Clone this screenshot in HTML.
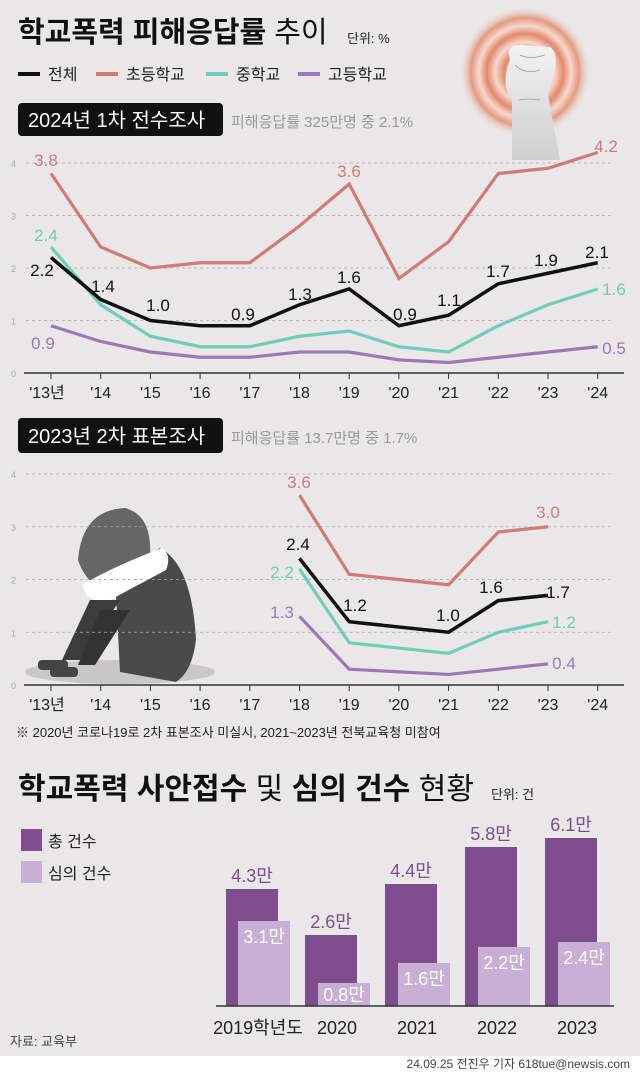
<!DOCTYPE html>
<html><head><meta charset="utf-8"><style>
html,body{margin:0;padding:0;background:#e9e7e8;}
svg{display:block;font-family:"Liberation Sans","Noto Sans CJK KR",sans-serif;}
</style></head><body>
<svg width="640" height="1072" viewBox="0 0 640 1072" xmlns="http://www.w3.org/2000/svg">
<defs>
<radialGradient id="rg" cx="0.5" cy="0.5" r="0.5">
<stop offset="0" stop-color="#e38e72" stop-opacity="0.9"/>
<stop offset="0.2" stop-color="#f6d8cc"/>
<stop offset="0.32" stop-color="#e2896c"/>
<stop offset="0.45" stop-color="#f6d8cc"/>
<stop offset="0.58" stop-color="#e2896c"/>
<stop offset="0.7" stop-color="#f6d8cc"/>
<stop offset="0.82" stop-color="#e59a80"/>
<stop offset="1" stop-color="#e9e7e8" stop-opacity="0"/>
</radialGradient>
<linearGradient id="arm" x1="0" y1="0" x2="0" y2="1"><stop offset="0" stop-color="#f2f2f2"/><stop offset="1" stop-color="#cfcfcf"/></linearGradient>
</defs>
<rect width="640" height="1072" fill="#e9e7e8"/>
<rect y="1056" width="640" height="16" fill="#fff"/>

<!-- fist -->
<circle cx="525" cy="72" r="66" fill="url(#rg)"/>
<path d="M510 60 Q505 45 520 45 L550 47 Q558 52 555 70 L548 95 L560 160 L512 160 L512 100 Q500 85 510 60Z" fill="url(#arm)"/>
<path d="M515 65 Q525 75 540 70 M520 55 Q530 60 545 55 M518 100 Q530 98 540 100" stroke="#999" stroke-width="0.8" fill="none"/>

<!-- title -->
<text x="18" y="42" font-size="29" font-weight="bold" fill="#111">학교폭력 피해응답률 <tspan font-weight="normal">추이</tspan></text>
<text x="347" y="43" font-size="13" fill="#222">단위: %</text>
<g font-size="16" fill="#222">
<rect x="18" y="72" width="22" height="4" fill="#111"/><text x="48" y="80">전체</text>
<rect x="96" y="72" width="22" height="4" fill="#d27a76"/><text x="126" y="80">초등학교</text>
<rect x="206" y="72" width="22" height="4" fill="#6fcdb9"/><text x="236" y="80">중학교</text>
<rect x="298" y="72" width="22" height="4" fill="#9d78b6"/><text x="328" y="80">고등학교</text>
</g>
<rect x="18" y="103" width="205" height="33" rx="4" fill="#111"/>
<text x="28" y="127" font-size="20" fill="#fff">2024년 1차 전수조사</text>
<text x="231" y="127" font-size="15" fill="#999">피해응답률 325만명 중 2.1%</text>

<!-- person -->
<ellipse cx="120" cy="672" rx="95" ry="12" fill="#c9c7c8"/>
<path d="M115 575 L160 548 Q192 565 196 640 Q192 672 176 682 L120 672Z" fill="#4a4a4a"/>
<path d="M78 560 Q82 510 125 508 Q152 515 150 555 Q140 580 115 590 Q88 590 78 560Z" fill="#666"/>
<path d="M82 585 Q110 568 162 548 Q172 555 166 570 L110 600 Q88 605 82 585Z" fill="#fff"/>
<path d="M90 600 L120 600 L80 660 L62 660Z" fill="#3c3c3c"/>
<path d="M100 610 L130 610 L95 665 L78 665Z" fill="#333"/>
<rect x="38" y="660" width="30" height="10" rx="4" fill="#444"/>
<rect x="50" y="667" width="28" height="10" rx="4" fill="#444"/>

<g id="c1"></g>
<rect x="18" y="418" width="205" height="35" rx="4" fill="#111"/>
<text x="28" y="443" font-size="20" fill="#fff">2023년 2차 표본조사</text>
<text x="231" y="443" font-size="15" fill="#999">피해응답률 13.7만명 중 1.7%</text>
<g id="c2"></g>
<text x="16" y="737" font-size="13" fill="#222">※ 2020년 코로나19로 2차 표본조사 미실시, 2021~2023년 전북교육청 미참여</text>

<!-- bar section -->
<text x="18" y="799" font-size="30" font-weight="bold" fill="#111" textLength="456" lengthAdjust="spacingAndGlyphs">학교폭력 사안접수 <tspan font-weight="normal">및</tspan> 심의 건수 <tspan font-weight="normal">현황</tspan></text>
<text x="491" y="799" font-size="13" fill="#222">단위: 건</text>
<rect x="21" y="829" width="21" height="22" fill="#7e4d8e"/><text x="48" y="847" font-size="16" fill="#222">총 건수</text>
<rect x="21" y="861" width="21" height="22" fill="#c9afd6"/><text x="48" y="879" font-size="16" fill="#222">심의 건수</text>
<g id="bars"></g>
<line x1="216" y1="1006" x2="614" y2="1006" stroke="#333" stroke-width="1.5"/>
<g font-size="18" fill="#222" text-anchor="middle">
<text x="258" y="1034">2019학년도</text><text x="337" y="1034">2020</text><text x="417" y="1034">2021</text><text x="497" y="1034">2022</text><text x="577" y="1034">2023</text>
</g>
<text x="10" y="1046" font-size="13" fill="#444">자료: 교육부</text>
<text x="630" y="1068" font-size="12" fill="#444" text-anchor="end">24.09.25 전진우 기자 618tue@newsis.com</text>
</svg>
<script>
var NS="http://www.w3.org/2000/svg";
function el(p,t,a,txt){var e=document.createElementNS(NS,t);for(var k in a)e.setAttribute(k,a[k]);if(txt!=null)e.textContent=txt;p.appendChild(e);return e;}
var X=function(i){return 51+49.7*i;};
var yrs=["'13년","'14","'15","'16","'17","'18","'19","'20","'21","'22","'23","'24"];
var cols={t:"#111",e:"#d27a76",m:"#6fcdb9",h:"#9d78b6"};
function chart(g,y0,u,data,labels){
 for(var v=0;v<=4;v++){var y=y0-u*v;
  if(v>0)el(g,"line",{x1:26,x2:612,y1:y,y2:y,stroke:"#aaa","stroke-dasharray":"3,3","stroke-width":0.8});
  el(g,"text",{x:11,y:y+4,"font-size":9,fill:"#aaa"},v);}
 el(g,"line",{x1:24,x2:624,y1:y0,y2:y0,stroke:"#333","stroke-width":1.5});
 for(var i=0;i<12;i++){el(g,"line",{x1:X(i),x2:X(i),y1:y0,y2:y0+6,stroke:"#333"});
  el(g,"text",{x:X(i)-(i==0?4:0),y:y0+25,"font-size":16,fill:"#222","text-anchor":"middle"},yrs[i]);}
 ["h","m","e","t"].forEach(function(k){var d=data[k],pts=[];
  for(var i=0;i<12;i++)if(d[i]!=null)pts.push(X(i)+","+(y0-u*d[i]));
  el(g,"polyline",{points:pts.join(" "),fill:"none",stroke:cols[k],"stroke-width":k=="t"?3.5:3.2,"stroke-linejoin":"miter"});});
 labels.forEach(function(l){el(g,"text",{x:l[1],y:l[2],"font-size":17,fill:cols[l[0]],"text-anchor":"middle"},l[3]);});
}
chart(document.getElementById("c1"),373,52.5,{
 t:[2.2,1.4,1.0,0.9,0.9,1.3,1.6,0.9,1.1,1.7,1.9,2.1],
 e:[3.8,2.4,2.0,2.1,2.1,2.8,3.6,1.8,2.5,3.8,3.9,4.2],
 m:[2.4,1.3,0.7,0.5,0.5,0.7,0.8,0.5,0.4,0.9,1.3,1.6],
 h:[0.9,0.6,0.4,0.3,0.3,0.4,0.4,0.25,0.2,0.3,0.4,0.5]},[
 ["e",46,166,"3.8"],["e",349,177,"3.6"],["e",606,152,"4.2"],
 ["m",46,241,"2.4"],["m",614,295,"1.6"],["h",43,349,"0.9"],["h",614,354,"0.5"],
 ["t",42,276,"2.2"],["t",103,292,"1.4"],["t",158,311,"1.0"],["t",243,320,"0.9"],["t",300,300,"1.3"],["t",349,283,"1.6"],["t",405,320,"0.9"],["t",449,306,"1.1"],["t",498,277,"1.7"],["t",546,266,"1.9"],["t",597,258,"2.1"]]);
chart(document.getElementById("c2"),685,52.75,{
 t:[null,null,null,null,null,2.4,1.2,null,1.0,1.6,1.7,null],
 e:[null,null,null,null,null,3.6,2.1,null,1.9,2.9,3.0,null],
 m:[null,null,null,null,null,2.2,0.8,null,0.6,1.0,1.2,null],
 h:[null,null,null,null,null,1.3,0.3,null,0.2,0.3,0.4,null]},[
 ["e",299,488,"3.6"],["e",548,518,"3.0"],["t",298,550,"2.4"],["m",282,578,"2.2"],["h",282,618,"1.3"],
 ["t",355,611,"1.2"],["t",448,621,"1.0"],["t",491,593,"1.6"],["t",558,598,"1.7"],["m",564,628,"1.2"],["h",564,669,"0.4"]]);
var bg=document.getElementById("bars");
var B=[[226,889,238,921,"4.3만","3.1만"],[305,935,318,983,"2.6만","0.8만"],[385,884,398,963,"4.4만","1.6만"],[465,847,478,947,"5.8만","2.2만"],[545,838,558,942,"6.1만","2.4만"]];
B.forEach(function(b){
 el(bg,"rect",{x:b[0],y:b[1],width:52,height:1006-b[1],fill:"#7e4d8e"});
 el(bg,"rect",{x:b[2],y:b[3],width:52,height:1006-b[3],fill:"#c9afd6"});
 el(bg,"text",{x:b[0]+26,y:b[1]-7,"font-size":18,fill:"#7e4d8e","text-anchor":"middle"},b[4]);
 el(bg,"text",{x:b[2]+26,y:b[3]+(b[3]>975?18:22),"font-size":18,fill:"#fff","text-anchor":"middle"},b[5]);
});
</script>
</body></html>
